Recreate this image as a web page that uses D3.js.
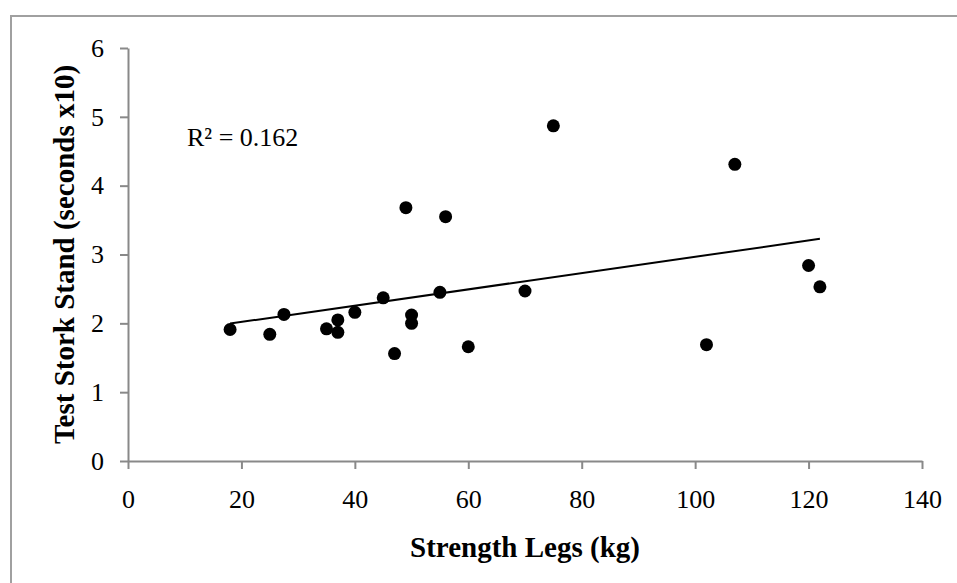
<!DOCTYPE html>
<html>
    <head>
        <meta charset="utf-8">
        <style>
            body { margin: 0; background: #fff; }
            svg text { font-family: "Liberation Serif", "Times New Roman", serif; fill: #000; }
        </style>
    </head>
    <body>
        <svg></svg>

        <script src="https://cdnjs.cloudflare.com/ajax/libs/d3/7.8.5/d3.min.js"></script>
        <script>
            // values (strength in kg, stork stand in seconds x10)
            const strengthLegs = [18, 25, 27.5, 35, 37, 37, 40, 45, 47, 49, 50, 50, 55, 56, 60, 70, 75, 102, 107, 120, 122]
            const storkStand = [1.91, 1.84, 2.13, 1.92, 2.05, 1.87, 2.16, 2.37, 1.56, 3.68, 2.12, 2.00, 2.45, 3.55, 1.66, 2.47, 4.87, 1.69, 4.31, 2.84, 2.53]
            const xTicks = [0, 20, 40, 60, 80, 100, 120, 140]
            const yTicks = [0, 1, 2, 3, 4, 5, 6]
            const xTitle = 'Strength Legs (kg)'
            const yTitle = 'Test Stork Stand (seconds x10)'
            const rSquaredLabel = 'R² = 0.162'

            let width = 957
            let height = 583
            let margin = { top: 48, left: 128, right: 35, bottom: 122 }

            const axisColor = '#898989'

            const svg = d3.select('svg')
                .attr('width', width).attr('height', height)

            // outer chart border, only top and left show inside the window
            svg.append('rect')
                .attr('x', 11).attr('y', 16)
                .attr('width', 1200).attr('height', 1200)
                .attr('fill', '#fff')
                .attr('stroke', '#a0a0a0')
                .attr('stroke-width', 2)

            const x = d3.scaleLinear()
                .domain([0, 140])
                .range([margin.left, width - margin.right])
            const y = d3.scaleLinear()
                .domain([0, 6])
                .range([height - margin.bottom, margin.top])

            const xAxis = svg.append('g')
                .attr('transform', `translate(0,${y(0)})`)
                .call(d3.axisBottom(x).tickValues(xTicks).tickFormat(d3.format('d'))
                    .tickSize(8).tickSizeOuter(0).tickPadding(21))
            const yAxis = svg.append('g')
                .attr('transform', `translate(${x(0)},0)`)
                .call(d3.axisLeft(y).tickValues(yTicks).tickFormat(d3.format('d'))
                    .tickSize(8).tickSizeOuter(0).tickPadding(16))

            ;[xAxis, yAxis].forEach(ax => {
                ax.selectAll('path, line').attr('stroke', axisColor).attr('stroke-width', 2)
                ax.selectAll('text')
                    .style('font-family', '"Liberation Serif", serif')
                    .style('font-size', '26px')
                    .attr('fill', '#000')
            })

            // least squares trendline
            const mx = d3.mean(strengthLegs)
            const my = d3.mean(storkStand)
            let sxy = 0, sxx = 0
            strengthLegs.forEach((v, i) => {
                sxy += (v - mx) * (storkStand[i] - my)
                sxx += (v - mx) * (v - mx)
            })
            const slope = sxy / sxx
            const intercept = my - slope * mx
            const xExtent = d3.extent(strengthLegs)

            svg.append('line')
                .attr('x1', x(xExtent[0])).attr('y1', y(intercept + slope * xExtent[0]))
                .attr('x2', x(xExtent[1])).attr('y2', y(intercept + slope * xExtent[1]))
                .attr('stroke', '#000')
                .attr('stroke-width', 2)

            svg.append('g').selectAll('circle')
                .data(strengthLegs.map((v, i) => ({ x: v, y: storkStand[i] })))
                .enter().append('circle')
                .attr('cx', d => x(d.x))
                .attr('cy', d => y(d.y))
                .attr('r', 6.5)
                .attr('fill', '#000')

            svg.append('text')
                .attr('x', 187).attr('y', 146)
                .style('font-size', '26px')
                .text(rSquaredLabel)

            svg.append('text')
                .attr('x', (x(0) + x(140)) / 2)
                .attr('y', 557)
                .attr('text-anchor', 'middle')
                .style('font-size', '29px')
                .style('font-weight', 'bold')
                .text(xTitle)

            svg.append('text')
                .attr('transform', `translate(74,${(y(0) + y(6)) / 2}) rotate(-90)`)
                .attr('text-anchor', 'middle')
                .style('font-size', '29px')
                .style('font-weight', 'bold')
                .text(yTitle)
        </script>
    </body>
</html>
